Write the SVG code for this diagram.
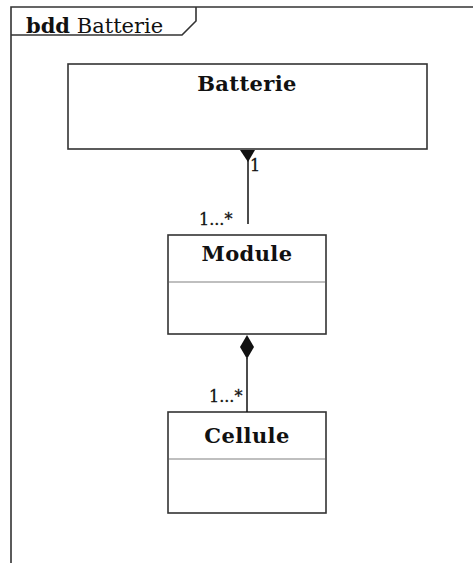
<svg xmlns="http://www.w3.org/2000/svg" width="473" height="563" viewBox="0 0 473 563">
<style>
.box{fill:#fff;stroke:#333;stroke-width:1.6}
.sep{stroke:#aaa;stroke-width:1.5}
.title{font-family:"DejaVu Serif","Liberation Serif",serif;font-weight:bold;font-size:21px;letter-spacing:0.4px;text-anchor:middle;fill:#111}
.mult{font-family:"DejaVu Serif","Liberation Serif",serif;font-size:16px;fill:#111;stroke:#111;stroke-width:0.3}
.conn{stroke:#111;stroke-width:1.5;fill:none}
</style>
<g id="frame">
<path d="M11,563 V7 H473" fill="none" stroke="#333" stroke-width="1.6"/>
<path d="M11,35 H182 L196,21 V7" fill="none" stroke="#333" stroke-width="1.6"/>
<text x="26" y="33" font-family="DejaVu Serif, Liberation Serif, serif" font-size="21" fill="#111"><tspan font-weight="bold">bdd</tspan> Batterie</text>
</g>
<g id="batterie">
<rect class="box" x="68" y="64" width="359" height="85"/>
<text class="title" x="247" y="91">Batterie</text>
</g>
<g id="module">
<rect class="box" x="168" y="235" width="158" height="99"/>
<line class="sep" x1="169" y1="282" x2="325" y2="282"/>
<text class="title" x="247" y="261">Module</text>
</g>
<g id="cellule">
<rect class="box" x="168" y="412" width="158" height="101"/>
<line class="sep" x1="169" y1="459" x2="325" y2="459"/>
<text class="title" x="247" y="443">Cellule</text>
</g>
<g id="connectors">
<line class="conn" x1="248" y1="155" x2="248" y2="224"/>
<path d="M240,150 L255,150 L248,162 Z" fill="#111"/>
<text class="mult" x="250" y="171">1</text>
<text class="mult" x="199" y="225">1...*</text>
<line class="conn" x1="247" y1="358" x2="247" y2="412"/>
<path d="M247,335 L254,347 L247,359 L240,347 Z" fill="#111"/>
<text class="mult" x="209" y="402">1...*</text>
</g>
</svg>
